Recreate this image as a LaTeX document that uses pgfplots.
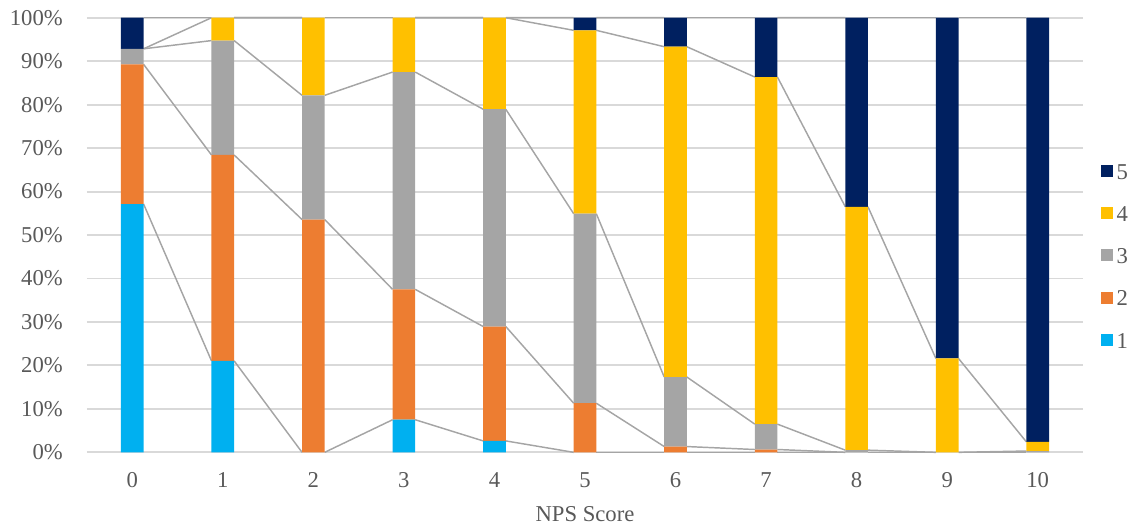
\documentclass[border=0pt]{standalone}
\usepackage{pgfplots}
\usepackage{pgfplotstable}
\pgfplotsset{compat=1.18}
\usepackage{fontspec}
\setmainfont{Liberation Serif}

\definecolor{s1col}{HTML}{00B0F0}
\definecolor{s2col}{HTML}{ED7D31}
\definecolor{s3col}{HTML}{A5A5A5}
\definecolor{s4col}{HTML}{FFC000}
\definecolor{s5col}{HTML}{002060}
\definecolor{txt}{HTML}{595959}
\definecolor{gridc}{HTML}{D9D9D9}
\definecolor{serline}{HTML}{A5A5A5}

% share of answers 1..5 (percent) for each NPS score
\pgfplotstableread{
score s1    s2    s3    s4    s5
0     57.14 32.14 3.57  0     7.15
1     21.05 47.37 26.32 5.26  0
2     0     53.57 28.57 17.86 0
3     7.5   30    50    12.5  0
4     2.63  26.32 50    21.05 0
5     0     11.3  43.6  42.2  2.9
6     0     1.33  16    76    6.67
7     0     0.65  5.84  79.87 13.64
8     0     0     0.5   56    43.5
9     0     0     0     21.6  78.4
10    0     0     0.3   2.1   97.6
}\npsdata

% running totals (top of each segment)
\pgfplotstablecreatecol[expr={\thisrow{s1}}]{c1}{\npsdata}
\pgfplotstablecreatecol[expr={\thisrow{c1}+\thisrow{s2}}]{c2}{\npsdata}
\pgfplotstablecreatecol[expr={\thisrow{c2}+\thisrow{s3}}]{c3}{\npsdata}
\pgfplotstablecreatecol[expr={\thisrow{c3}+\thisrow{s4}}]{c4}{\npsdata}
\pgfplotstablecreatecol[expr={\thisrow{c4}+\thisrow{s5}}]{c5}{\npsdata}
% rise of each total to the next score (for the series lines)
\pgfplotstablecreatecol[expr={\nextrow{c1}-\thisrow{c1}}]{d1}{\npsdata}
\pgfplotstablecreatecol[expr={\nextrow{c2}-\thisrow{c2}}]{d2}{\npsdata}
\pgfplotstablecreatecol[expr={\nextrow{c3}-\thisrow{c3}}]{d3}{\npsdata}
\pgfplotstablecreatecol[expr={\nextrow{c4}-\thisrow{c4}}]{d4}{\npsdata}
\pgfplotstablecreatecol[expr={\nextrow{c5}-\thisrow{c5}}]{d5}{\npsdata}

\pgfplotsset{
  sq/.style={fill=#1, draw=none,
    legend image code/.code={\fill[#1] (0pt,-3.2pt) rectangle (9pt,5.8pt);}},
  serieslink/.style={forget plot, stack plots=false, sharp plot, no marks,
    draw=serline, fill=none, line width=1.1pt,
    quiver={u=0.75, v=\thisrow{#1}},
    skip coords between index={10}{11}},
}

\begin{document}
\begin{tikzpicture}
\useasboundingbox (-65.25pt,-57.5pt) rectangle ++(851.25pt,396.75pt);
\begin{axis}[
  at={(0,0)}, anchor=south west,
  scale only axis, width=747pt, height=325.95pt,
  ybar stacked, bar width=0.25,
  xmin=-0.5, xmax=10.5, ymin=0, ymax=100,
  xtick={0,...,10}, ytick={0,10,...,100},
  yticklabel={\pgfmathprintnumber{\tick}\%},
  /pgf/number format/assume math mode=true,
  axis line style={draw=none},
  major tick length=0pt,
  ymajorgrids, grid style={draw=gridc, line width=1.4pt},
  font=\fontsize{17}{20}\selectfont,
  ticklabel style={text=txt, inner sep=0pt},
  yticklabel style={anchor=east, xshift=-18pt},
  xticklabel style={anchor=north, yshift=-15pt},
  xlabel={NPS Score},
  xlabel style={text=txt, inner sep=0pt, at={(axis description cs:0.5,0)}, anchor=north, yshift=-40.5pt},
  legend style={
    at={(axis description cs:1,0.663)}, anchor=north west, xshift=13.3pt,
    draw=none, fill=none, inner sep=0pt, outer sep=0pt,
    row sep=19pt, column sep=3pt,
    nodes={inner sep=0pt, text=txt, font=\fontsize{17}{20}\selectfont},
  },
  legend cell align=left,
  reverse legend,
  clip=false,
]
\addplot[sq=s1col] table[x=score, y=s1]{\npsdata};
\addplot[sq=s2col] table[x=score, y=s2]{\npsdata};
\addplot[sq=s3col] table[x=score, y=s3]{\npsdata};
\addplot[sq=s4col] table[x=score, y=s4]{\npsdata};
\addplot[sq=s5col] table[x=score, y=s5]{\npsdata};
\legend{1,2,3,4,5}

\addplot[serieslink=d1] table[x expr=\coordindex+0.125, y=c1]{\npsdata};
\addplot[serieslink=d2] table[x expr=\coordindex+0.125, y=c2]{\npsdata};
\addplot[serieslink=d3] table[x expr=\coordindex+0.125, y=c3]{\npsdata};
\addplot[serieslink=d4] table[x expr=\coordindex+0.125, y=c4]{\npsdata};
\addplot[serieslink=d5] table[x expr=\coordindex+0.125, y=c5]{\npsdata};
\end{axis}
\end{tikzpicture}
\end{document}
